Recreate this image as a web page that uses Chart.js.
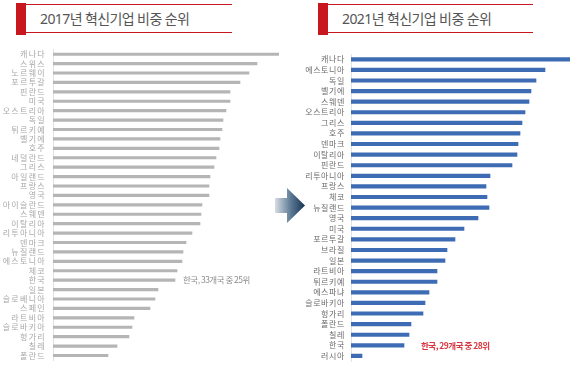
<!DOCTYPE html>
<html lang="ko">
<head>
<meta charset="utf-8">
<script src="https://cdn.jsdelivr.net/npm/chart.js@4.4.1/dist/chart.umd.min.js"></script>
<style>
  body { margin: 0; width: 570px; height: 372px; background: #fff; position: relative; overflow: hidden;
         font-family: "Noto Sans", "Noto Sans CJK KR", sans-serif; }
  .mark { position: absolute; top: 3px; width: 10px; height: 32px; background: #c9171f; }
  .head { position: absolute; top: 4px; height: 27px; border-top: 1.5px solid #c9171f; border-bottom: 1.5px solid #c9171f; }
  .head span { position: absolute; top: 3px; font-size: 14px; color: #555; letter-spacing: -0.6px; white-space: nowrap;
               font-family: "Noto Sans", "Noto Sans CJK KR", sans-serif; }
  canvas { position: absolute; top: 0; }
  #arrow { position: absolute; left: 274px; top: 187px; }
</style>
</head>
<body>

<div class="mark" style="left:16px"></div>
<div class="head" style="left:26px; width:206px"><span style="left:14px">2017년 혁신기업 비중 순위</span></div>
<div class="mark" style="left:318px"></div>
<div class="head" style="left:328px; width:205px"><span style="left:14px">2021년 혁신기업 비중 순위</span></div>

<svg id="arrow" width="32" height="38" viewBox="0 0 32 38">
  <defs>
    <linearGradient id="g" x1="0" x2="1" y1="0" y2="0">
      <stop offset="0" stop-color="#d7dde4"/>
      <stop offset="0.55" stop-color="#587691"/>
      <stop offset="1" stop-color="#16344f"/>
    </linearGradient>
  </defs>
  <polygon points="1,11 13,11 13,1 31,18.5 13,36 13,26 1,26" fill="url(#g)"/>
</svg>

<canvas id="chart2017" width="285" height="372" style="left:0"></canvas>
<canvas id="chart2021" width="285" height="372" style="left:285px"></canvas>

<script>
// =========================
// 데이터 (그림에서 읽은 추정값)
// =========================

const countries2017 = [
  "캐나다", "스위스", "노르웨이", "포르투갈", "핀란드", "미국", "오스트리아", "독일", "튀르키예",
  "벨기에", "호주", "네덜란드", "그리스", "아일랜드", "프랑스", "영국", "아이슬란드", "스웨덴",
  "이탈리아", "리투아니아", "덴마크", "뉴질랜드", "에스토니아", "체코", "한국", "일본",
  "슬로베니아", "스페인", "라트비아", "슬로바키아", "헝가리", "칠레", "폴란드",
];
const share2017 = [
  22.6, 20.4, 19.6, 18.7, 17.7, 17.7, 17.3, 17.0, 16.9,
  16.7, 16.6, 16.3, 16.1, 15.7, 15.6, 15.6, 14.9, 14.8,
  14.7, 13.9, 13.3, 13.0, 12.9, 12.4, 12.2, 10.5,
  10.2, 9.7, 8.1, 7.9, 7.6, 6.4, 5.5,
];

const countries2021 = [
  "캐나다", "에스토니아", "독일", "벨기에", "스웨덴", "오스트리아", "그리스", "호주", "덴마크",
  "이탈리아", "핀란드", "리투아니아", "프랑스", "체코", "뉴질랜드", "영국", "미국", "포르투갈",
  "브라질", "일본", "라트비아", "튀르키예", "에스파냐", "슬로바키아", "헝가리", "폴란드",
  "칠레", "한국", "러시아",
];
const share2021 = [
  21.9, 19.4, 18.5, 18.0, 17.8, 17.4, 17.1, 16.9, 16.7,
  16.6, 16.1, 13.9, 13.5, 13.6, 13.8, 12.7, 11.3, 10.4,
  9.6, 9.4, 8.6, 8.6, 7.8, 7.4, 7.2, 6.0,
  5.8, 5.3, 1.1,
];

const note2017 = "한국, 33개국 중 25위";
const note2021 = "한국, 29개국 중 28위";

// =========================
// 한국 주석 플러그인
// =========================

function koreaNote(text, color, offset, weight) {
  return {
    id: "koreaNote",
    afterDatasetsDraw(chart) {
      const idx = chart.data.labels.indexOf("한국");
      if (idx < 0) return;
      const { ctx, scales } = chart;
      const value = chart.data.datasets[0].data[idx];
      ctx.save();
      ctx.letterSpacing = "-0.5px";
      ctx.font = `${weight} 8.5px "Noto Sans CJK KR", sans-serif`;
      ctx.fillStyle = color;
      ctx.textBaseline = "middle";
      ctx.fillText(text, scales.x.getPixelForValue(value) + offset, scales.y.getPixelForValue(idx));
      ctx.restore();
    },
  };
}

function spacing(px) {
  return {
    id: "spacing",
    beforeDraw(chart) { chart.ctx.letterSpacing = px; },
    afterDraw(chart) { chart.ctx.letterSpacing = "0px"; },
  };
}

// =========================
// 차트 생성
// =========================

function makeChart(id, labels, values, cfg) {
  const canvas = document.getElementById(id);
  return new Chart(canvas.getContext("2d"), {
    type: "bar",
    data: {
      labels,
      datasets: [{ data: values, backgroundColor: cfg.color, barThickness: cfg.thickness }],
    },
    options: {
      indexAxis: "y",
      responsive: false,
      animation: false,
      layout: { padding: cfg.padding },
      plugins: { legend: { display: false }, tooltip: { enabled: false } },
      scales: {
        x: { display: false, min: 0, max: values[0] },
        y: {
          afterFit: (scale) => { scale.width = cfg.axisWidth; },
          grid: { display: true, drawOnChartArea: false, drawTicks: false },
          border: { display: true, color: "#e2e2e2" },
          ticks: {
            autoSkip: false,
            padding: cfg.tickPadding,
            color: cfg.labelColor,
            font: { size: 8, family: '"Noto Sans CJK KR", sans-serif' },
          },
        },
      },
    },
    plugins: [spacing(cfg.letterSpacing), koreaNote(cfg.note, cfg.noteColor, cfg.noteOffset, cfg.noteWeight)],
  });
}

makeChart("chart2017", countries2017, share2017, {
  color: "#b5b5b5",
  thickness: 2.5,
  padding: { top: 49.5, bottom: 5, right: 6, left: 0 },
  axisWidth: 53,
  tickPadding: 7,
  labelColor: "#a8a8a8",
  letterSpacing: "1.3px",
  note: note2017,
  noteColor: "#8d8d8d",
  noteOffset: 8,
  noteWeight: "normal",
});

makeChart("chart2021", countries2021, share2021, {
  color: "#3e6cb4",
  thickness: 3.5,
  padding: { top: 54, bottom: 7.5, right: 0, left: 0 },
  axisWidth: 66,
  tickPadding: 6,
  labelColor: "#6a6a6a",
  letterSpacing: "0.6px",
  note: note2021,
  noteColor: "#d9363e",
  noteOffset: 17,
  noteWeight: "bold",
});
</script>
</body>
</html>
